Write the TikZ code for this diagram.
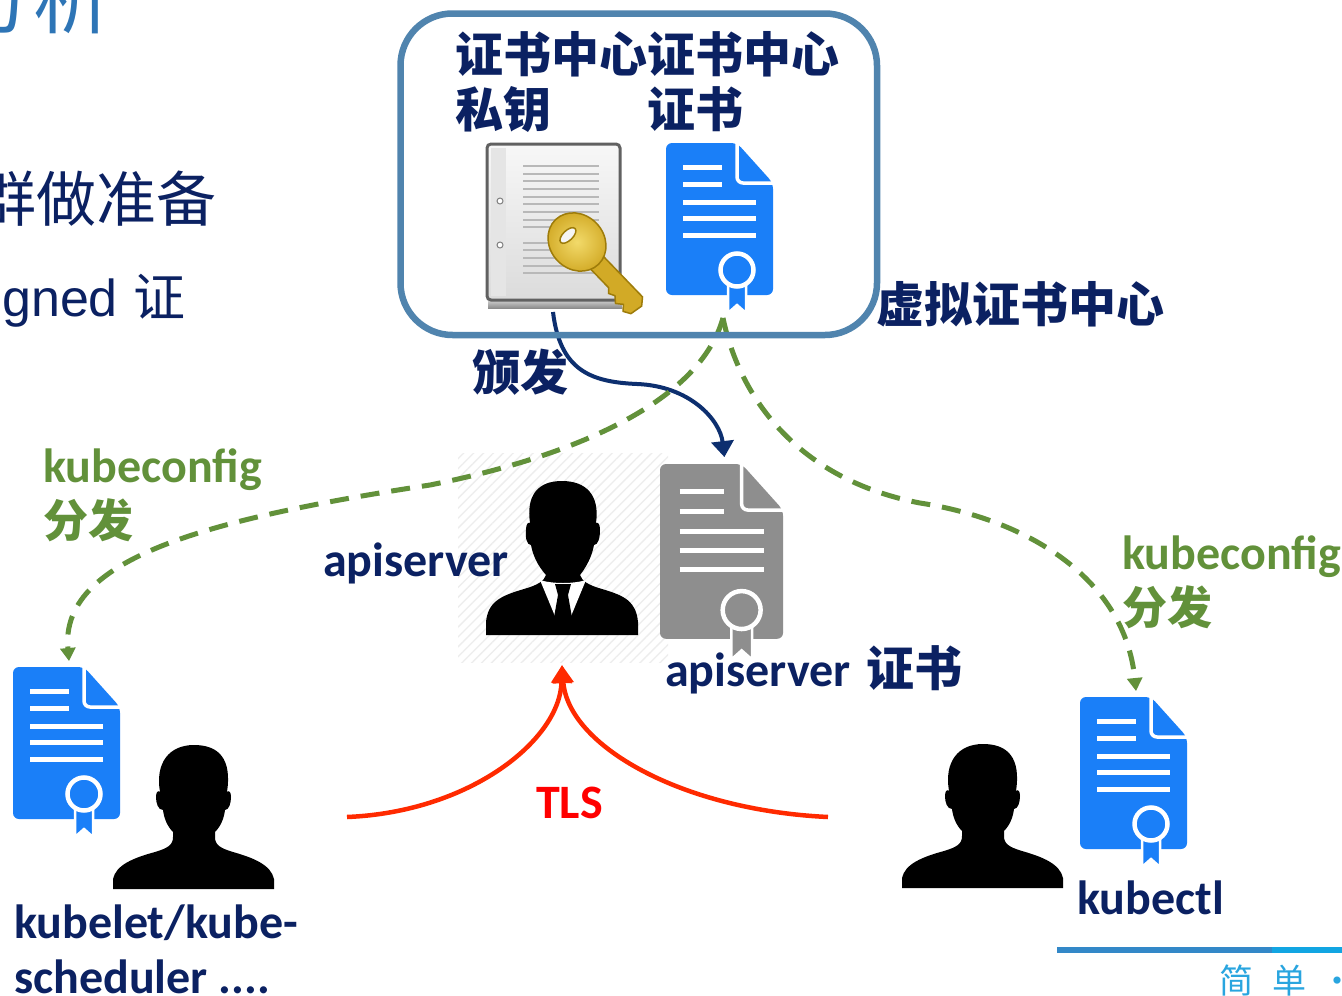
\documentclass[tikz,border=0pt]{standalone}
\usepackage{fontspec}
\newfontfamily\cjk{Noto Sans CJK SC}
\newfontfamily\cali{Carlito}
\newfontfamily\arialish{Liberation Sans}
\usetikzlibrary{arrows.meta,patterns.meta}

\definecolor{navy}{HTML}{0B2162}
\definecolor{titleblue}{HTML}{2E75B6}
\definecolor{boxblue}{HTML}{5084AE}
\definecolor{docblue}{HTML}{1A7FF8}
\definecolor{docgray}{HTML}{8E8E8E}
\definecolor{kgreen}{HTML}{62913A}
\definecolor{tlsred}{HTML}{FF2A00}
\definecolor{issuenavy}{HTML}{0D2F6F}
\definecolor{keygold}{HTML}{D2AA26}
\definecolor{keylight}{HTML}{F2DA6A}
\definecolor{keydark}{HTML}{9E7C0A}
\definecolor{logoA}{HTML}{3388C8}
\definecolor{logoB}{HTML}{12A5E2}
\definecolor{logotext}{HTML}{29A5DF}

\tikzset{
  % certificate sheet with folded corner, seal and ribbon (107 x 152 units)
  pics/cert/.style={code={
    \fill[#1, rounded corners=6] (0,0) -- (71,0) -- (107,40) -- (107,152) -- (0,152) -- cycle;
    \draw[white, line width=3.5pt, rounded corners=6] (71,-2) -- (71,40) -- (109,40);
    \draw[white, line width=5pt] (17,24) -- (56,24) (17,41) -- (56,41)
      (17,59) -- (90,59) (17,75) -- (90,75) (17,92) -- (90,92);
    \filldraw[fill=#1, draw=white, line width=2.5pt] (62,128) -- (62,170) -- (71,162) -- (80,170) -- (80,128) -- cycle;
    \filldraw[fill=#1, draw=white, line width=4.5pt] (71,127) circle[radius=16.5];
    \coordinate (-in) at (56,-6);
    \coordinate (-out) at (57,175);
  }},
  % head-and-shoulders silhouette (161 x 144 units)
  pics/person/.style={code={
    \fill[black] (0,144) -- (0,134) .. controls (3,120) and (20,113) .. (42,107)
      .. controls (55,103) and (60,100) .. (60,92) -- (60,87)
      .. controls (54,81) and (51,73) .. (50,65)
      .. controls (45,65) and (43,58) .. (43,52) .. controls (43,47) and (45,45) .. (47,47)
      .. controls (42,18) and (56,0) .. (81,0) .. controls (106,0) and (119,14) .. (114,47)
      .. controls (116,45) and (118,47) .. (118,52) .. controls (118,58) and (116,65) .. (112,65)
      .. controls (111,73) and (108,81) .. (102,87) -- (102,92)
      .. controls (102,100) and (107,103) .. (120,107) .. controls (141,113) and (158,120) .. (161,134)
      -- (161,144) -- cycle;
  }},
  cnbig/.style={inner sep=0, anchor=base west, text=navy, font=\cjk\bfseries\fontsize{48}{55}\selectfont},
  latlbl/.style={inner sep=0, anchor=base west, text=navy, font=\cali\bfseries\fontsize{48}{55}\selectfont},
  kclbl/.style={inner sep=0, anchor=base west, text=kgreen, font=\cali\bfseries\fontsize{48}{55}\selectfont},
  kccn/.style={inner sep=0, anchor=base west, text=kgreen, font=\cjk\bfseries\fontsize{45}{55}\selectfont},
  kdash/.style={kgreen, line width=5pt, dash pattern=on 19pt off 12pt, -{Triangle[width=15pt,length=13pt]}},
  issue/.style={issuenavy, line width=4pt, -{Triangle[width=22pt,length=16pt]}},
  tls/.style={tlsred, line width=4.5pt, -{Triangle[width=20pt,length=18pt]}},
}

\begin{document}
\begin{tikzpicture}[x=1pt,y=-1pt]
\useasboundingbox (0,0) rectangle (1342,996);
\clip (0,0) rectangle (1342,996);
\fill[white] (0,0) rectangle (1342,996);

% slide text running off the left edge
\node[anchor=base east, inner sep=0, text=titleblue, font=\cjk\fontsize{80}{86}\selectfont] (title) at (114,27) {分析};
\node[anchor=base east, inner sep=0, text=navy, font=\cjk\fontsize{60}{66}\selectfont] (prep) at (217,221) {群做准备};
\node[anchor=base west, inner sep=0, text=navy, font=\fontsize{52}{58}\selectfont] (signed) at (2,316) {{\arialish gned} {\cjk 证}};

% hatched backdrop behind the apiserver
\fill[pattern={Lines[angle=45,distance=7pt,line width=1.3pt]}, pattern color=black!7] (458,453) rectangle (668,662);

% CA private key: document with a key
\shade[top color=black!5, bottom color=black!45] (488,296) rectangle (622,308);
\filldraw[draw=black!62, line width=3pt, rounded corners=4, top color=black!3, bottom color=black!14] (487,144) rectangle (620,300);
\fill[black!10] (491,148) rectangle (506,296);
\draw[black!28, line width=2.8pt]
  (523,166) -- (599,166) (523,174) -- (599,174) (523,181) -- (599,181)
  (523,189) -- (599,189) (523,197) -- (599,197) (523,204) -- (599,204)
  (523,212) -- (599,212) (523,220) -- (599,220) (523,227) -- (599,227)
  (523,243) -- (599,243) (523,250) -- (599,250) (523,258) -- (599,258)
  (523,266) -- (599,266) (523,273) -- (599,273);
\filldraw[fill=white, draw=black!50, line width=1pt] (500,201) circle[radius=3] (500,245) circle[radius=3];
\begin{scope}[shift={(577,242)}, rotate=-46]
  \filldraw[fill=keygold, draw=keydark, line width=1.5pt] (20,-9) -- (85,-9) -- (91,-2) -- (89,11)
    -- (82,15) -- (77,10) -- (71,15) -- (65,10) -- (59,13) -- (55,9) -- (20,9) -- cycle;
  \shade[inner color=keylight, outer color=keygold] (0,0) ellipse[x radius=31, y radius=27];
  \draw[keydark, line width=1.5pt] (0,0) ellipse[x radius=31, y radius=27];
  \filldraw[fill=black!4, draw=keydark, line width=1.5pt] (-11,2) ellipse[x radius=5, y radius=10];
\end{scope}
\coordinate (keyOut) at (553,312);

% certificates
\pic (caCert) at (666,143) {cert=docblue};
\pic[scale=1.15] (apiCert) at (660,464) {cert=docgray};
\pic (leftCert) at (13,667) {cert=docblue};
\pic (rightCert) at (1080,697) {cert=docblue};

% apiserver: suited figure
\fill[black] (486,635) -- (486,622) .. controls (488,602) and (500,596) .. (524,589)
  .. controls (538,585) and (544,581) .. (546,575)
  .. controls (538,566) and (533,556) .. (531,545)
  .. controls (527,545) and (525,538) .. (526,530) .. controls (526,524) and (528,522) .. (530,523)
  .. controls (526,495) and (538,481) .. (562,481) .. controls (586,481) and (600,495) .. (596,523)
  .. controls (598,522) and (600,524) .. (600,530) .. controls (600,538) and (598,545) .. (594,545)
  .. controls (592,556) and (587,566) .. (580,575)
  .. controls (582,581) and (588,585) .. (602,589) .. controls (626,596) and (636,602) .. (638,622)
  -- (638,635) -- cycle;
\fill[white] (540,580) .. controls (552,584) and (574,584) .. (586,580) -- (569,621) -- (557,621) -- cycle;
\fill[black] (555,584) -- (571,584) -- (568,595) -- (558,595) -- cycle;
\fill[black] (558,595) -- (568,595) -- (573,623) -- (563,632) -- (553,623) -- cycle;

% clients
\pic (leftUser) at (113,745) {person};
\pic (rightUser) at (902,744) {person};

% TLS meeting point and client ends
\coordinate (apiIn) at (562,665);
\coordinate (tlsL) at (347,817);
\coordinate (tlsR) at (828,817);

% connectors
\draw[issue] (keyOut) .. controls (560,370) and (590,382) .. (637,384)
  .. controls (690,386) and (720,420) .. (apiCert-in);
\draw[kdash] (caCert-out) .. controls (700,400) and (580,455) .. (430,485)
  .. controls (200,520) and (60,560) .. (leftCert-in);
\draw[kdash] (caCert-out) .. controls (740,400) and (800,480) .. (920,503)
  .. controls (1030,520) and (1125,580) .. (rightCert-in);
\draw[tls] (tlsL) .. controls (470,812) and (560,740) .. (apiIn);
\draw[tls] (tlsR) .. controls (680,810) and (568,745) .. (apiIn);

% virtual CA frame
\draw[boxblue, line width=6.5pt, rounded corners=52pt] (400.5,13.5) rectangle (877,335);

% labels
\node[cnbig] (caKeyA) at (455,72) {证书中心};
\node[cnbig] (caKeyB) at (455,127) {私钥};
\node[cnbig] (caCrtA) at (647,72) {证书中心};
\node[cnbig] (caCrtB) at (647,127) {证书};
\node[cnbig] (issueLbl) at (472,390) {颁发};
\node[cnbig] (vca) at (876,322) {虚拟证书中心};
\node[kclbl] (kcL) at (43,482) {kubeconfig};
\node[kccn] (kcLcn) at (43,537) {分发};
\node[kclbl] (kcR) at (1122,569) {kubeconfig};
\node[kccn] (kcRcn) at (1122,624) {分发};
\node[latlbl] (apiLbl) at (323,576) {apiserver};
\node[latlbl] (apiCrtLbl) at (665,686) {apiserver\hspace{16pt}{\cjk 证书}};
\node[inner sep=0, anchor=base west, text=red, font=\cali\bfseries\fontsize{48}{55}\selectfont] (tlsLbl) at (536,818) {TLS};
\node[latlbl] (kubeletA) at (14,938) {kubelet/kube-};
\node[latlbl] (kubeletB) at (14,993) {scheduler ....};
\node[latlbl] (kubectlLbl) at (1077,914) {kubectl};

% footer logo
\fill[logoA] (1057,947) rectangle (1272,953);
\fill[logoB] (1272,947) rectangle (1342,953);
\node[inner sep=0, anchor=base west, text=logotext, font=\cjk\fontsize{34}{40}\selectfont] (logo) at (1219,993) {简\hspace{19pt}单\hspace{14pt}·};
\end{tikzpicture}
\end{document}
